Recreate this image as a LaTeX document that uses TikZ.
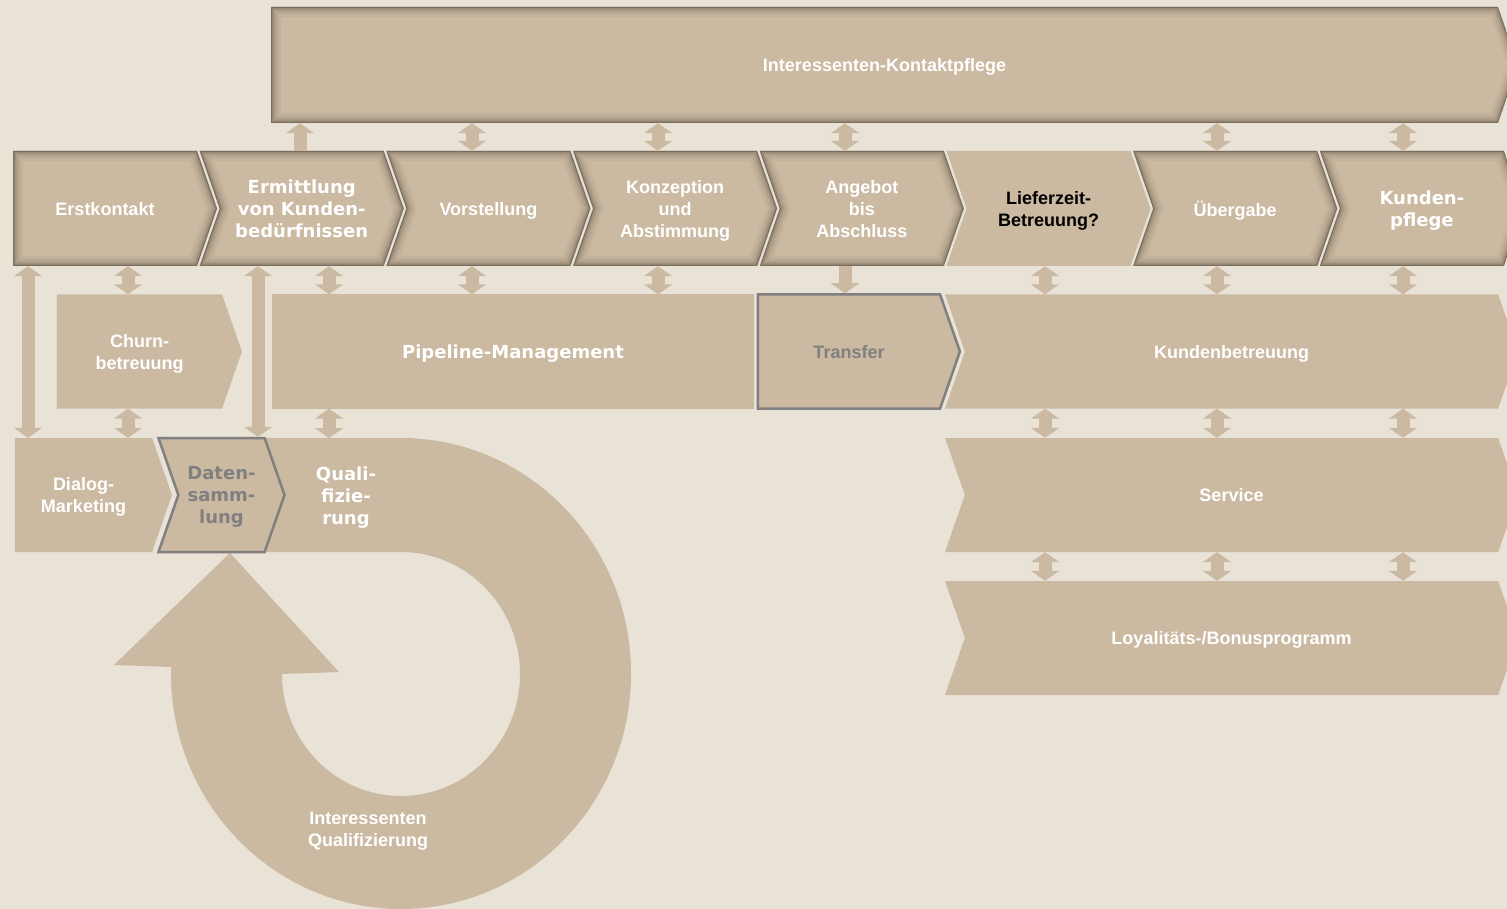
\documentclass[tikz,border=0pt]{standalone}
\usepackage{fontspec}
\setmainfont{Liberation Sans}
\newfontfamily\verdfont{DejaVu Sans}
\usetikzlibrary{shapes.symbols,arrows.meta,positioning}
\definecolor{bgcol}{HTML}{E8E2D7}
\definecolor{tanfill}{HTML}{CBB9A1}
\definecolor{shadecol}{HTML}{3F362B}
\definecolor{grayline}{HTML}{808080}
\newcommand\shadowpath[1]{%
  \foreach \w/\o in {20/0.05,14/0.08,9/0.11,5/0.17,2/0.33}
    \draw[shadecol, line width=\w pt, opacity=\o]
      (path picture bounding box.north west) -- ([xshift=-20pt]path picture bounding box.north east)
      -- (path picture bounding box.east) -- ([xshift=-20pt]path picture bounding box.south east)
      -- (path picture bounding box.south west) -- ([xshift=#1pt]path picture bounding box.west) -- cycle;}
\tikzstyle{lbl} = [text=white, font=\fontsize{18}{22}\selectfont\bfseries, align=center, text depth=0pt]
\tikzstyle{verd} = [font=\fontsize{18}{22}\selectfont\bfseries\verdfont]
\tikzstyle{band} = [signal, signal to=east, signal pointer angle=141.6, fill=tanfill, inner sep=0pt, minimum height=114pt, lbl]
\tikzstyle{notched} = [signal from=west]
\tikzstyle{chev} = [band, notched, minimum width=204pt, minimum height=115pt]
\tikzstyle{shade} = [path picture={\shadowpath{20}}]
\tikzstyle{shadeflat} = [path picture={\shadowpath{0}}]
\tikzstyle{grayframe} = [draw=grayline, line width=2.5pt, text=grayline]
\tikzstyle{fatarrow} = [line width=13pt, draw=tanfill, >={Triangle[width=28pt,length=10pt]}]
\begin{document}
\begin{tikzpicture}[x=1pt, y=-1pt, node distance=186.7pt]
	\useasboundingbox (0,0) rectangle (1507,909);
	\fill[bgcol] (0,0) rectangle (1507,909);
	\fill[tanfill] (262,438) -- (401,438) arc[start angle=-90, end angle=180, x radius=230, y radius=235.5]
		-- (171,667) -- (114,665) -- (230,553) -- (339,672) -- (282,674)
		arc[start angle=180, end angle=-90, x radius=119, y radius=122] -- (262,552) -- cycle;
	\coordinate (looptop) at (401,438);
	\node (kontakt) [band, shadeflat, minimum width=1247pt, minimum height=116pt] at (884.5,65) {Interessenten-Kontaktpflege};
	\node (erst) [band, shadeflat, minimum width=204pt, minimum height=115pt] at (105,208.5) {Erstkontakt};
	\node (ermitt) [chev, shade, verd] at (301.7,208.5) {Ermittlung\\von Kunden-\\bedürfnissen};
	\node (vorst) [chev, shade, right of=ermitt] {Vorstellung};
	\node (konz) [chev, shade, right of=vorst] {Konzeption\\und\\Abstimmung};
	\node (angeb) [chev, shade, right of=konz] {Angebot\\bis\\Abschluss};
	\node (liefer) [chev, text=black, right of=angeb] {Lieferzeit-\\Betreuung?};
	\node (ueberg) [chev, shade, right of=liefer] {Übergabe};
	\node (kpflege) [chev, shade, verd, right of=ueberg] {Kunden-\\pflege};
	\node (churn) [band, minimum width=185pt] at (139.5,351.5) {Churn-\\betreuung};
	\node (pipe) [rectangle, fill=tanfill, minimum width=482pt, minimum height=114pt, lbl, verd] at (513,351.5) {Pipeline-Management};
	\node (kbetr) [band, notched, minimum width=573pt] at (1231.5,351.5) {Kundenbetreuung};
	\node (transfer) [band, grayframe, minimum width=202pt] at (849,351.5) {Transfer};
	\node (dialog) [band, minimum width=157pt] at (83.5,495) {Dialog-\\Marketing};
	\node (daten) [band, notched, grayframe, verd, minimum width=126pt] at (221.5,495) {Daten-\\samm-\\lung};
	\node (quali) [lbl, verd] at (346,496) {Quali-\\fizie-\\rung};
	\node (service) [band, notched, minimum width=573pt] at (1231.5,495) {Service};
	\node (loyal) [band, notched, minimum width=573pt] at (1231.5,638) {Loyalitäts-/Bonusprogramm};
	\node (intqual) [lbl] at (368,829) {Interessenten\\Qualifizierung};
	\foreach \x in {472,658,845,1217,1403}
		\draw[fatarrow,<->] (kontakt.south -| \x,0) -- (erst.north -| \x,0);
	\draw[fatarrow,->] (ermitt.north -| 300,0) -- (kontakt.south -| 300,0);
	\draw[fatarrow,<->] (erst.south -| 28,0) -- (dialog.north -| 28,0);
	\draw[fatarrow,<->] (erst.south -| 128,0) -- (churn.north -| 128,0);
	\draw[fatarrow,<->] (ermitt.south -| 258,0) -- (daten.north -| 258,0);
	\foreach \c/\x in {ermitt/329,vorst/472,konz/658}
		\draw[fatarrow,<->] (\c.south -| \x,0) -- (pipe.north -| \x,0);
	\draw[fatarrow,->] (angeb.south -| 845,0) -- (transfer.north -| 845,0);
	\foreach \c/\x in {liefer/1045,ueberg/1217,kpflege/1403}
		\draw[fatarrow,<->] (\c.south -| \x,0) -- (kbetr.north -| \x,0);
	\draw[fatarrow,<->] (churn.south -| 128,0) -- (dialog.north -| 128,0);
	\draw[fatarrow,<->] (pipe.south -| 329,0) -- (looptop -| 329,0);
	\foreach \x in {1045,1217,1403} {
		\draw[fatarrow,<->] (kbetr.south -| \x,0) -- (service.north -| \x,0);
		\draw[fatarrow,<->] (service.south -| \x,0) -- (loyal.north -| \x,0);
	}
\end{tikzpicture}
\end{document}
